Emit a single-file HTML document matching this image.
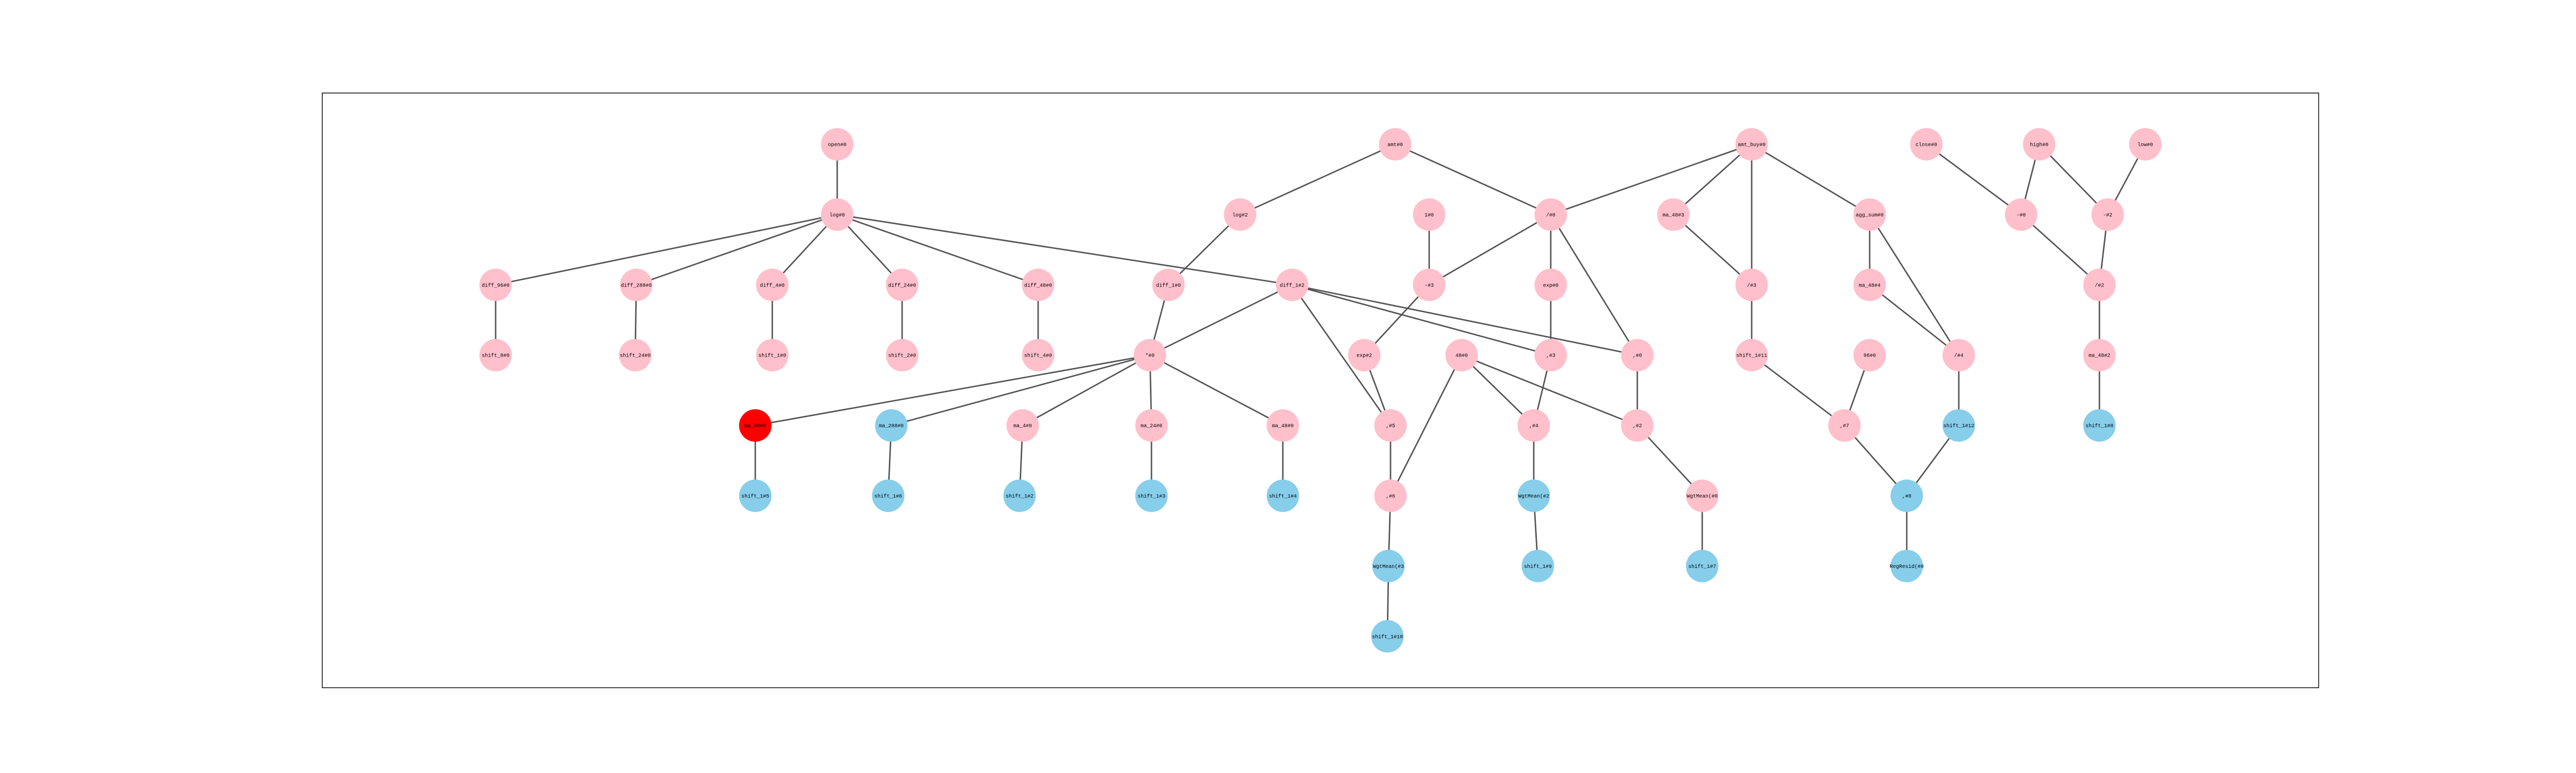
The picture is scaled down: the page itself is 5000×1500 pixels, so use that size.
<!DOCTYPE html>
<html><head><meta charset="utf-8">
<style>
html,body{margin:0;padding:0;background:#fff;}
svg{display:block;}
text{font-family:"Liberation Mono","DejaVu Sans Mono",monospace;font-size:10px;fill:#000;}
</style></head>
<body>
<svg id="chart" width="5000" height="1500" viewBox="0 0 5000 1500" xmlns="http://www.w3.org/2000/svg">
<rect x="625.5" y="180.5" width="3875" height="1154" fill="none" stroke="#000" stroke-width="1.5"/>
<g id="edges"></g>
<g id="nodes"></g>
</svg>
<script>
const nodeNames = ["open#0","amt#0","amt_buy#0","close#0","high#0","low#0",
"log#0","log#2","1#0","/#0","ma_48#3","agg_sum#0","-#0","-#2",
"diff_96#0","diff_288#0","diff_4#0","diff_24#0","diff_48#0","diff_1#0","diff_1#2","-#3","exp#0","/#3","ma_48#4","/#2",
"shift_8#0","shift_24#0","shift_1#0","shift_2#0","shift_4#0","*#0","exp#2","48#0",",#3",",#0","shift_1#11","96#0","/#4","ma_48#2",
"ma_96#0","ma_288#0","ma_4#0","ma_24#0","ma_48#0",",#5",",#4",",#2",",#7","shift_1#12","shift_1#8",
"shift_1#5","shift_1#6","shift_1#2","shift_1#3","shift_1#4",",#6","WgtMean(#2","WgtMean(#0",",#8",
"WgtMean(#3","shift_1#9","shift_1#7","RegResid(#0","shift_1#10"];
const nodeX = [1625,2708,3400,3739,3958,4164,
1625,2407,2774,3010,3248,3629,3923,4091,
962,1235,1499,1751,2015,2268,2508,2774,3010,3400,3629,4075,
962,1233,1499,1751,2015,2232,2648,2837,3010,3178,3400,3629,3802,4075,
1466,1730,1985,2235,2490,2699,2977,3178,3580,3802,4075,
1466,1724,1979,2235,2490,2699,2977,3304,3701,
2695,2985,3304,3701,2693];
const nodeLevel = [0,0,0,0,0,0,
1,1,1,1,1,1,1,1,
2,2,2,2,2,2,2,2,2,2,2,2,
3,3,3,3,3,3,3,3,3,3,3,3,3,3,
4,4,4,4,4,4,4,4,4,4,4,
5,5,5,5,5,5,5,5,5,
6,6,6,6,7];
const nodeKind = ["p","p","p","p","p","p",
"p","p","p","p","p","p","p","p",
"p","p","p","p","p","p","p","p","p","p","p","p",
"p","p","p","p","p","p","p","p","p","p","p","p","p","p",
"r","b","p","p","p","p","p","p","p","b","b",
"b","b","b","b","b","p","b","p","b",
"b","b","b","b","b"];
const edgeFrom = ["open#0","log#0","log#0","log#0","log#0","log#0","log#0",
"amt#0","amt#0","amt_buy#0","amt_buy#0","amt_buy#0","amt_buy#0",
"close#0","high#0","high#0","low#0",
"log#2","1#0","/#0","/#0","/#0","ma_48#3","agg_sum#0","agg_sum#0","-#0","-#2",
"diff_96#0","diff_288#0","diff_4#0","diff_24#0","diff_48#0",
"diff_1#0","diff_1#2","diff_1#2","diff_1#2","diff_1#2","-#3","exp#0","/#3","ma_48#4","/#2",
"*#0","*#0","*#0","*#0","*#0","exp#2","48#0","48#0","48#0",",#3",",#0","shift_1#11","96#0","/#4","ma_48#2",
"ma_96#0","ma_288#0","ma_4#0","ma_24#0","ma_48#0",",#5",",#4",",#2",",#7","shift_1#12",
",#6","WgtMean(#3","WgtMean(#2","WgtMean(#0",",#8"];
const edgeTo = ["log#0","diff_96#0","diff_288#0","diff_4#0","diff_24#0","diff_48#0","diff_1#2",
"log#2","/#0","/#0","ma_48#3","/#3","agg_sum#0",
"-#0","-#0","-#2","-#2",
"diff_1#0","-#3","-#3","exp#0",",#0","/#3","ma_48#4","/#4","/#2","/#2",
"shift_8#0","shift_24#0","shift_1#0","shift_2#0","shift_4#0",
"*#0","*#0",",#5",",#3",",#0","exp#2",",#3","shift_1#11","/#4","ma_48#2",
"ma_96#0","ma_288#0","ma_4#0","ma_24#0","ma_48#0",",#5",",#6",",#4",",#2",",#4",",#2",",#7",",#7","shift_1#12","shift_1#8",
"shift_1#5","shift_1#6","shift_1#2","shift_1#3","shift_1#4",",#6","WgtMean(#2","WgtMean(#0",",#8",",#8",
"WgtMean(#3","shift_1#10","shift_1#9","shift_1#7","RegResid(#0"];

const NS="http://www.w3.org/2000/svg";
const yOf = l => 280 + l*136.4;
const colors = {p:"#ffc0cb", b:"#87ceeb", r:"#ff0000"};
const idx = {};
nodeNames.forEach((n,i)=>idx[n]=i);
const eg = document.getElementById('edges');
for (let k=0;k<edgeFrom.length;k++){
  const a=idx[edgeFrom[k]], b=idx[edgeTo[k]];
  const ln=document.createElementNS(NS,'line');
  
  
  ln.setAttribute('x1',nodeX[a]); ln.setAttribute('y1',yOf(nodeLevel[a]));
  ln.setAttribute('x2',nodeX[b]); ln.setAttribute('y2',yOf(nodeLevel[b]));
  ln.setAttribute('stroke','#555'); ln.setAttribute('stroke-width','2.8');
  eg.appendChild(ln);
}
const ng = document.getElementById('nodes');
nodeNames.forEach((n,i)=>{
  const g=document.createElementNS(NS,'g');
  
  
  const c=document.createElementNS(NS,'circle');
  
  
  c.setAttribute('cx',nodeX[i]); c.setAttribute('cy',yOf(nodeLevel[i]));
  c.setAttribute('r','31.5'); c.setAttribute('fill',colors[nodeKind[i]]);
  g.appendChild(c);
  const t=document.createElementNS(NS,'text');
  
  
  t.setAttribute('x',nodeX[i]); t.setAttribute('y',yOf(nodeLevel[i])+3.5);
  t.setAttribute('text-anchor','middle');
  t.textContent=n;
  g.appendChild(t);
  ng.appendChild(g);
});
</script>
</body></html>
